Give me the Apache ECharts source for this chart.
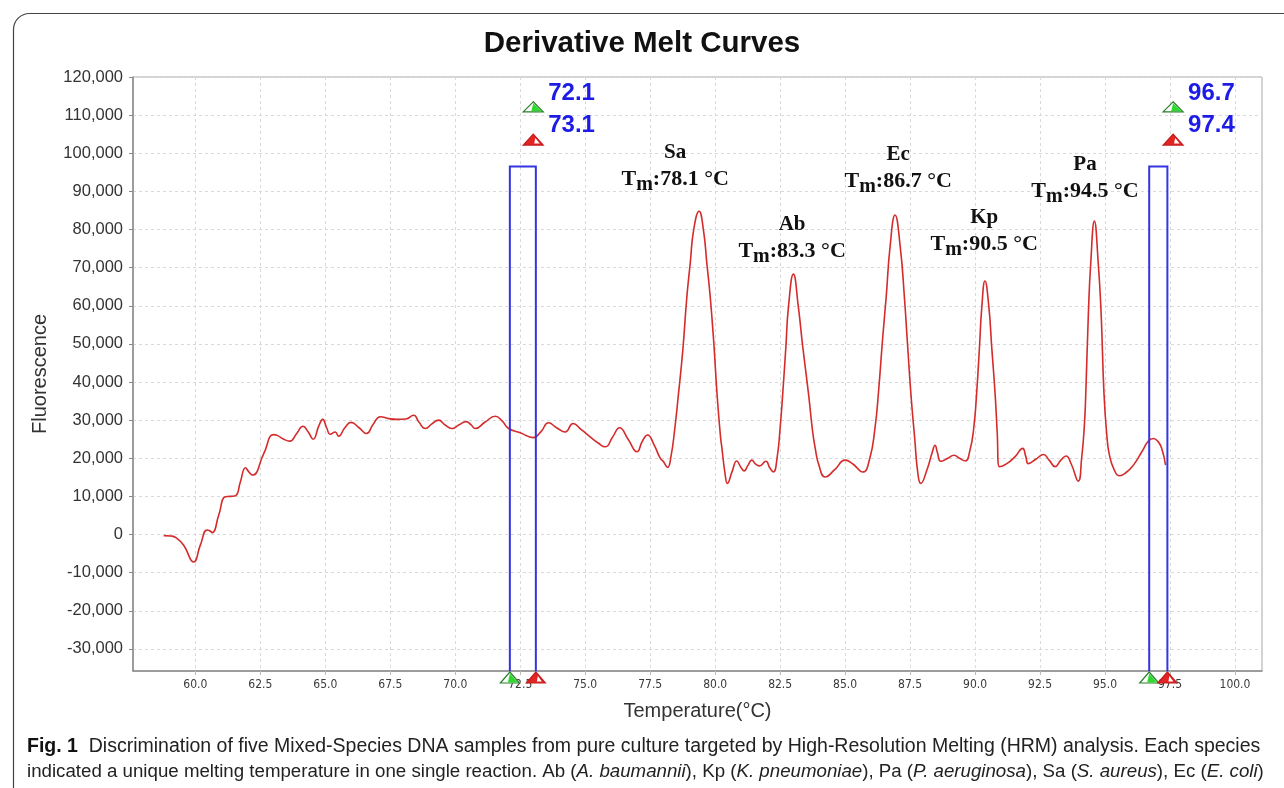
<!DOCTYPE html>
<html><head><meta charset="utf-8">
<script src="https://cdn.jsdelivr.net/npm/echarts@6/dist/echarts.min.js"></script>
<style>html,body{margin:0;padding:0;background:#fff}#c{width:1284px;height:788px}</style>
</head><body><div id="c"></div>
<script>
// ---------------- data ----------------
const temperature = [
 58.78,59.05,59.25,59.55,59.93,60.19,60.45,60.55,60.65,60.9,61.15,61.35,61.55,61.73,61.93,62.05,62.2,62.63,63.0,63.15,
 63.4,63.63,63.9,64.14,64.35,64.53,64.75,64.9,65.05,65.19,65.38,65.51,65.75,65.99,66.3,66.58,66.85,67.12,67.45,67.76,
 68.1,68.4,68.6,68.85,69.1,69.36,69.6,69.87,70.15,70.42,70.6,70.77,71.15,71.54,71.8,72.05,72.5,73.0,73.3,73.59,
 73.9,74.23,74.53,74.85,75.19,75.5,75.77,76.05,76.32,76.65,76.99,77.2,77.4,77.65,77.88,78.0,78.17,78.3,78.45,78.59,
 78.75,78.91,79.04,79.17,79.38,79.55,79.68,79.81,79.95,80.07,80.2,80.26,80.38,80.47,80.65,80.83,81.0,81.12,81.25,81.41,
 81.55,81.7,81.95,82.1,82.24,82.38,82.5,82.6,82.72,82.82,83.01,83.2,83.37,83.59,83.75,83.85,84.0,84.23,84.6,85.0,
 85.3,85.68,85.95,86.15,86.28,86.45,86.58,86.73,86.92,87.12,87.28,87.4,87.53,87.68,87.8,87.91,88.15,88.35,88.46,88.55,
 88.68,88.95,89.19,89.4,89.62,89.8,89.95,90.06,90.17,90.26,90.38,90.53,90.64,90.77,90.85,90.93,91.22,91.55,91.83,91.95,
 92.05,92.35,92.63,92.85,93.08,93.3,93.5,93.7,93.97,94.1,94.2,94.26,94.36,94.45,94.59,94.74,94.85,94.96,95.07,95.17,
 95.35,95.55,95.8,96.09,96.4,96.67,96.86,97.05,97.18,97.33
];
const fluorescence = [
 -300,-400,-800,-2800,-7200,-2800,1200,1000,500,5100,9900,10000,10200,13800,17500,16500,15600,21200,26200,26000,
 25000,24500,26500,28400,26800,25000,28500,30200,28000,26300,26900,25800,28000,29400,28000,26500,29000,30900,30400,30200,
 30300,31300,29500,27800,29000,30000,28800,27800,28800,29600,28800,27800,29500,31000,29800,27800,26700,25400,27000,29300,
 28000,26900,29100,27500,25600,24000,23000,25500,28000,25000,21700,24500,26100,23500,20100,19200,17600,20500,28000,37000,
 48000,62300,71100,79800,84800,79800,71100,62300,50000,37000,26000,22600,16000,13400,16500,19300,17500,16700,18000,19500,
 18500,18000,19200,17500,16400,20000,28000,37000,49200,59700,68300,59700,49200,37000,27000,22600,18000,15100,17000,19500,
 18500,16400,20000,28000,37000,52000,62300,75500,83800,75500,62300,50000,37000,25000,16000,13400,17000,21500,23400,21500,
 19200,20000,20800,20000,19300,22000,28000,37000,49200,59700,66500,59700,49200,37000,27000,17800,18600,20500,22600,20500,
 18600,19800,21000,19500,17800,19500,20600,18500,14000,20000,28000,37000,58000,71100,82200,71100,58000,37000,26000,20800,
 17000,15400,16200,18200,21500,24500,25200,24300,22600,18200
];
const xTickValues = [60,62.5,65,67.5,70,72.5,75,77.5,80,82.5,85,87.5,90,92.5,95,97.5,100];
const yTickValues = [-30000,-20000,-10000,0,10000,20000,30000,40000,50000,60000,70000,80000,90000,100000,110000,120000];
const cursorLow = [72.1, 96.7];
const cursorHigh = [73.1, 97.4];
const cursorTop = 96500;
const peakNames = ['Sa','Ab','Ec','Kp','Pa'];
const peakTm = ['78.1','83.3','86.7','90.5','94.5'];

// ---------------- layout / style ----------------
const X_MIN = 57.6, X_MAX = 101.04, Y_MIN = -35800, Y_MAX = 120000;
const BLUE = '#3434e0', LABEL_BLUE = '#1c1ce6';
const annotAnchor = [[78.46,96100],[82.96,77200],[87.04,95600],[90.35,79000],[94.23,92900]];
const cursorIconT = [73.0, 97.62];

const series_data = temperature.map((t,i)=>[t, fluorescence[i]]);

function triangle(cx, baseY, kind, w, h){
  const ax = cx, ay = baseY - h;
  const out = [];
  if (kind === 'g') {
    out.push({type:'polygon', shape:{points:[[ax,ay],[cx+w/2,baseY],[cx-w/2,baseY]]}, style:{fill:'#ffffff', stroke:'#2c7f2c', lineWidth:1.2}});
    out.push({type:'polygon', shape:{points:[[ax,ay+1.5],[cx+w/2-1.5,baseY-0.6],[cx-2,baseY-0.6]]}, style:{fill:'#2fd82f'}});
  } else {
    out.push({type:'polygon', shape:{points:[[ax,ay],[cx+w/2,baseY],[cx-w/2,baseY]]}, style:{fill:'#e32424', stroke:'#c41c1c', lineWidth:1.2}});
    out.push({type:'polygon', shape:{points:[[ax+2,ay+4],[cx+w/2-3.5,baseY-1.6],[cx+1,baseY-1.6]]}, style:{fill:'#ffffff'}});
  }
  return out;
}

const chart = echarts.init(document.getElementById('c'), null, {renderer:'canvas'});
const FONT = "'Liberation Sans', Arial, sans-serif";
const NARROW = "'Liberation Sans Narrow', 'DejaVu Sans Condensed', 'Liberation Sans', sans-serif";
const SERIF = "'Liberation Serif', 'Times New Roman', serif";

const option = {
  animation: false,
  backgroundColor: '#ffffff',
  title: {
    text: 'Derivative Melt Curves', left: 'center', top: 24,
    textStyle: {fontFamily: FONT, fontWeight: 'bold', fontSize: 29.5, color: '#111'}
  },
  grid: {left: 133, right: 22, top: 77, bottom: 117, show: true, borderColor: '#a8a8a8', borderWidth: 1, containLabel: false},
  xAxis: {
    type: 'value', min: X_MIN, max: X_MAX,
    name: 'Temperature(°C)', nameLocation: 'middle', nameGap: 30,
    nameTextStyle: {fontFamily: FONT, fontSize: 20, color: '#333'},
    axisLine: {onZero: false, lineStyle: {color: '#8a8a8a', width: 1.5}},
    axisTick: {show: true, length: 4, inside: false, customValues: xTickValues, lineStyle: {color: '#bbb'}},
    axisLabel: {customValues: xTickValues, margin: 8, fontFamily: NARROW, fontSize: 12, color: '#3a3a3a',
      formatter: v => v.toFixed(1)},
    splitLine: {show: true, lineStyle: {color: '#d9d9d9', type: [3,3], width: 1}}
  },
  yAxis: {
    type: 'value', min: Y_MIN, max: Y_MAX,
    name: 'Fluorescence', nameLocation: 'middle', nameGap: 83,
    nameTextStyle: {fontFamily: FONT, fontSize: 20, color: '#333'},
    axisLine: {show: true, onZero: false, lineStyle: {color: '#8a8a8a', width: 1.5}},
    axisTick: {show: true, length: 4, customValues: yTickValues, lineStyle: {color: '#888'}},
    axisLabel: {customValues: yTickValues, margin: 10, fontFamily: FONT, fontSize: 16.5, color: '#333',
      formatter: v => v.toLocaleString('en-US')},
    splitLine: {show: true, lineStyle: {color: '#d9d9d9', type: [3,3], width: 1}}
  },
  series: [
    {
      type: 'line', data: series_data, smooth: 0.5, showSymbol: false,
      lineStyle: {color: '#d42b2b', width: 1.6}, z: 3
    },
    {
      type: 'custom', z: 4, clip: false,
      data: cursorLow.map((lo,i)=>[lo, cursorHigh[i], cursorTop]),
      renderItem: function(params, api){
        const lo = api.value(0), hi = api.value(1), top = api.value(2);
        const lb = api.coord([lo, Y_MIN]), lt = api.coord([lo, top]);
        const ht = api.coord([hi, top]), hb = api.coord([hi, Y_MIN]);
        const ch = [];
        ch.push({type:'polyline', shape:{points:[lb, lt, ht, hb]}, style:{stroke: BLUE, lineWidth: 2, fill: null}});
        ch.push(...triangle(lb[0], lb[1] + 12, 'g', 19, 11));
        ch.push(...triangle(hb[0], hb[1] + 12, 'r', 19, 11));
        const ic = api.coord([cursorIconT[params.dataIndex], 0])[0];
        const l1 = api.coord([0, 115600])[1];
        const l2 = api.coord([0, 107400])[1];
        ch.push(...triangle(ic, l1 + 18, 'g', 20, 10));
        ch.push(...triangle(ic, l2 + 20, 'r', 20, 11));
        ch.push({type:'text', x: ic + 15, y: l1, style:{text: lo.toFixed(1), fill: LABEL_BLUE,
          font: "bold 24px 'Liberation Sans', Arial, sans-serif", textAlign:'left', textVerticalAlign:'middle'}});
        ch.push({type:'text', x: ic + 15, y: l2, style:{text: hi.toFixed(1), fill: LABEL_BLUE,
          font: "bold 24px 'Liberation Sans', Arial, sans-serif", textAlign:'left', textVerticalAlign:'middle'}});
        return {type:'group', children: ch};
      }
    },
    {
      type: 'custom', z: 5, clip: false,
      data: peakNames.map((n,i)=>[annotAnchor[i][0], annotAnchor[i][1], i]),
      renderItem: function(params, api){
        const p = api.coord([api.value(0), api.value(1)]);
        const i = params.dataIndex;
        return {type:'text', x: p[0], y: p[1], style:{
          text: '{n|' + peakNames[i] + '}\n{t|T}{s|m}{t|:' + peakTm[i] + ' °C}',
          textAlign: 'center', textVerticalAlign: 'middle',
          rich: {
            n: {fontFamily: SERIF, fontWeight: 'bold', fontSize: 21, lineHeight: 22, fill: '#111'},
            t: {fontFamily: SERIF, fontWeight: 'bold', fontSize: 22, fill: '#111'},
            s: {fontFamily: SERIF, fontWeight: 'bold', fontSize: 20, padding: [11,0,0,0], fill: '#111'}
          }
        }};
      }
    }
  ],
  graphic: [
    {type:'rect', left: 11, top: 11, shape:{x:0, y:0, width: 1320, height: 820, r: 16}, style:{fill: null, stroke:'#444', lineWidth: 1.2}, silent: true},
    {type:'text', left: 27, top: 737, style:{
      text: '{b|Fig. 1}  Discrimination of five Mixed-Species DNA samples from pure culture targeted by High-Resolution Melting (HRM) analysis. Each species',
      font: "19.5px 'Liberation Sans', Arial, sans-serif", fill: '#222',
      rich: {b: {fontWeight:'bold', fontSize: 19.5, fontFamily: FONT, fill:'#111'}}
    }},
    {type:'text', left: 27, top: 762, style:{
      text: 'indicated a unique melting temperature in one single reaction. Ab ({i|A. baumannii}), Kp ({i|K. pneumoniae}), Pa ({i|P. aeruginosa}), Sa ({i|S. aureus}), Ec ({i|E. coli})',
      font: "18.7px 'Liberation Sans', Arial, sans-serif", fill: '#222',
      rich: {i: {fontStyle:'italic', fontSize: 18.7, fontFamily: FONT, fill:'#222'}}
    }}
  ]
};
chart.setOption(option);
</script>
</body></html>
